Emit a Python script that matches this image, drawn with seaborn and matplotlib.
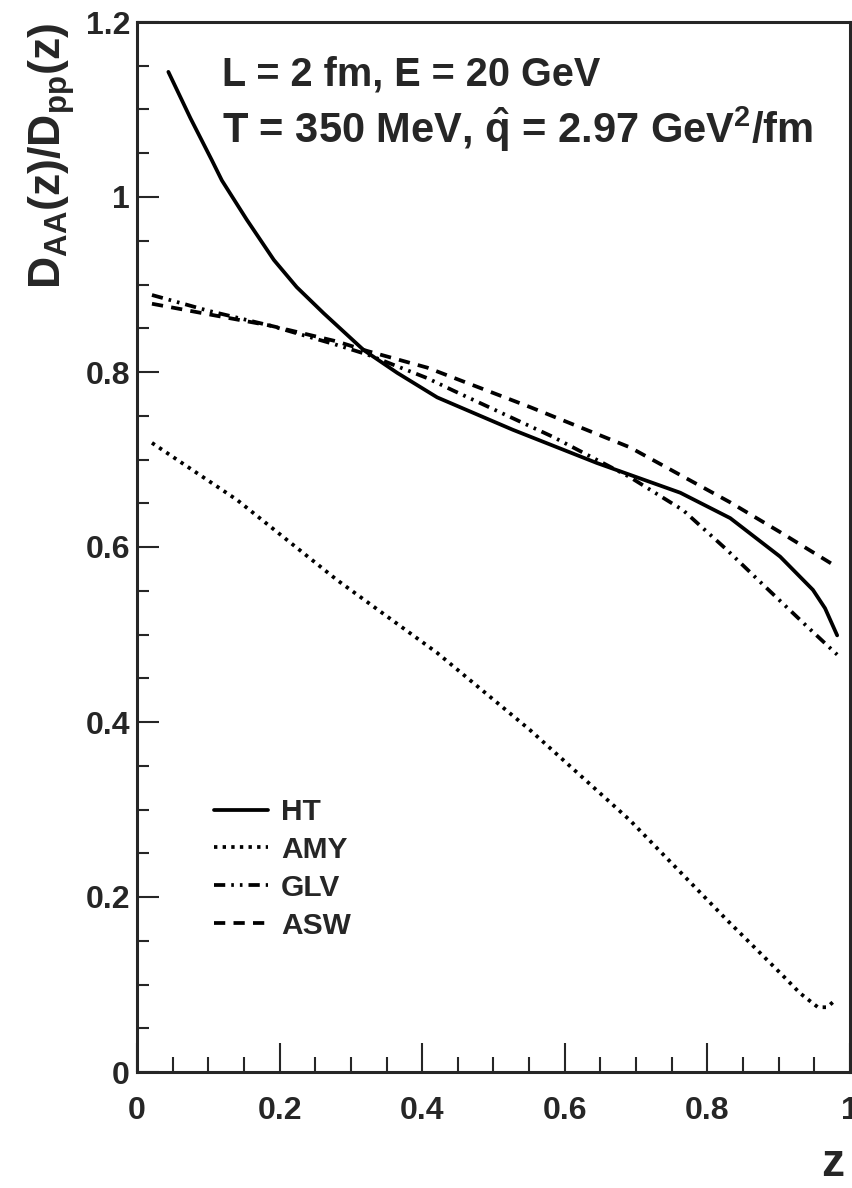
import numpy as np
import pandas as pd
import seaborn as sns
import matplotlib
matplotlib.use("Agg")
import matplotlib.pyplot as plt
from matplotlib.ticker import MultipleLocator

## values
ht_z = [0.044, 0.075, 0.105, 0.119, 0.154, 0.192, 0.224, 0.262, 0.318, 0.365, 0.421,
        0.527, 0.645, 0.762, 0.832, 0.902, 0.948, 0.965, 0.982]
ht_r = [1.143, 1.090, 1.042, 1.019, 0.974, 0.928, 0.897, 0.867, 0.825, 0.799, 0.771,
        0.734, 0.696, 0.662, 0.633, 0.589, 0.551, 0.530, 0.499]

amy_z = [0.021, 0.140, 0.281, 0.421, 0.551, 0.691, 0.827, 0.874, 0.906, 0.930,
         0.955, 0.968, 0.979]
amy_r = [0.719, 0.654, 0.562, 0.479, 0.391, 0.288, 0.174, 0.136, 0.110, 0.090,
         0.074, 0.074, 0.082]

glv_z = [0.021, 0.100, 0.187, 0.280, 0.323, 0.407, 0.443, 0.583, 0.691, 0.766,
         0.827, 0.878, 0.940, 0.982]
glv_r = [0.888, 0.870, 0.853, 0.831, 0.820, 0.793, 0.779, 0.726, 0.680, 0.642,
         0.597, 0.557, 0.509, 0.477]

asw_z = [0.021, 0.100, 0.187, 0.280, 0.323, 0.407, 0.551, 0.691, 0.832, 0.902, 0.976]
asw_r = [0.878, 0.866, 0.853, 0.835, 0.824, 0.805, 0.760, 0.714, 0.651, 0.617, 0.580]

models = ["HT", "AMY", "GLV", "ASW"]

sns.set_style("ticks")
plt.rcParams['font.family'] = ['Liberation Sans', 'DejaVu Sans']
plt.rcParams['font.weight'] = 'bold'
plt.rcParams['mathtext.fontset'] = 'custom'
plt.rcParams['mathtext.rm'] = 'Liberation Sans:bold'
plt.rcParams['mathtext.it'] = 'Liberation Sans:bold'
plt.rcParams['mathtext.bf'] = 'Liberation Sans:bold'
plt.rcParams['mathtext.default'] = 'rm'

fig = plt.figure(figsize=(8.53, 11.88), dpi=100)
ax = fig.add_axes([137/853, 1 - 1072/1188, 713/853, 1050/1188])

lw = 2.7
styles = {
    "HT": "-",
    "AMY": (0, (0.9, 1.4)),
    "GLV": (0, (3.0, 1.6, 0.7, 1.6, 0.7, 1.6)),
    "ASW": (0, (3.0, 2.2)),
}
data = {
    "HT": (ht_z, ht_r),
    "AMY": (amy_z, amy_r),
    "GLV": (glv_z, glv_r),
    "ASW": (asw_z, asw_r),
}
for m in models:
    df = pd.DataFrame({"z": data[m][0], "ratio": data[m][1]})
    sns.lineplot(data=df, x="z", y="ratio", ax=ax, color="black", lw=lw,
                 linestyle=styles[m], label=m, sort=False, estimator=None)

ax.set_xlim(0, 1)
ax.set_ylim(0, 1.2)

ax.xaxis.set_minor_locator(MultipleLocator(0.05))
ax.yaxis.set_minor_locator(MultipleLocator(0.05))
ax.set_xticks([0, 0.2, 0.4, 0.6, 0.8, 1.0])
ax.set_xticklabels(["0", "0.2", "0.4", "0.6", "0.8", "1"])
ax.set_yticks([0, 0.2, 0.4, 0.6, 0.8, 1.0, 1.2])
ax.set_yticklabels(["0", "0.2", "0.4", "0.6", "0.8", "1", "1.2"])

ax.tick_params(axis='x', which='major', direction='in', length=21, width=1.5,
               labelsize=23, pad=17, top=False)
ax.tick_params(axis='x', which='minor', direction='in', length=10.5, width=1.5, top=False)
ax.tick_params(axis='y', which='major', direction='in', length=15.5, width=1.5,
               labelsize=23, pad=5, right=False)
ax.tick_params(axis='y', which='minor', direction='in', length=8.5, width=1.5, right=False)
for lab in ax.get_xticklabels() + ax.get_yticklabels():
    lab.set_fontweight('bold')

for s in ax.spines.values():
    s.set_linewidth(2.2)
    s.set_visible(True)

ax.set_xlabel("z", loc="right", fontsize=33, fontweight="bold", labelpad=12)
ax.xaxis.label.set_x(0.992)
ax.set_ylabel(r"$D_{AA}(z)/D_{pp}(z)$", loc="top", fontsize=32, labelpad=6)

ax.text(0.119, 0.94, "L = 2 fm, E = 20 GeV", transform=ax.transAxes,
        fontsize=28.5, fontweight="bold", va="baseline", ha="left")
ax.text(0.119, 0.885, r"T = 350 MeV, $\hat{q}$ = 2.97 GeV$^{2}$/fm", transform=ax.transAxes,
        fontsize=30, fontweight="bold", va="baseline", ha="left")

leg = ax.legend(loc="upper left", bbox_to_anchor=((214 - 137) / 713, (1072 - 798) / 1050),
                frameon=False, fontsize=21.5, handlelength=1.8, handletextpad=0.45,
                labelspacing=0.33, borderaxespad=0, borderpad=0)
for t in leg.get_texts():
    t.set_fontweight("bold")

fig.savefig("out.png", dpi=100, facecolor="white")
